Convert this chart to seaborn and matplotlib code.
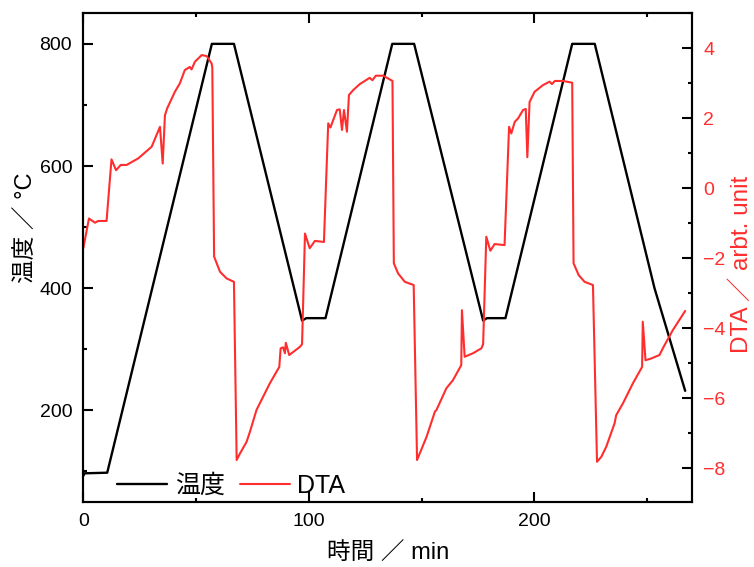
import pandas as pd
import matplotlib.pyplot as plt
import seaborn as sns
from matplotlib.ticker import MultipleLocator
from matplotlib.lines import Line2D

# temperature program (min, degC)
temp_time = [0, 0.6, 10.6, 57.0, 66.8, 97.0, 98.9, 107.4, 137.0, 146.7,
             177.3, 179.0, 187.2, 216.8, 226.8, 253.3, 266.9]
temp_value = [93, 97, 98, 800, 800, 347, 351, 351, 800, 800,
              347, 351, 351, 800, 800, 400, 232]

# DTA signal (min, arbt. unit)
dta_time = [0, 2.5, 5.2, 6.6, 10.3, 12.5, 14.5, 16.6, 19.2, 24.4,
            30.3, 34.0, 35.2, 36.2, 37.2, 40.6, 42.8, 45.0, 47.2, 48.0,
            49.5, 52.5, 54.7, 56.9, 57.2, 58.0, 60.6, 63.5, 66.8, 68.0,
            69.5, 72.4, 73.9, 76.8, 82.7, 86.9, 87.5, 88.6, 89.4, 89.8,
            91.3, 96.0, 97.0, 98.3, 100.4, 102.7, 106.7, 108.6, 109.6, 110.8,
            112.5, 113.7, 114.7, 115.6, 116.9, 117.8, 119.7, 122.6, 127.0, 128.2,
            129.7, 133.0, 137.1, 137.7, 139.6, 142.6, 146.5, 148.0, 149.2, 152.2,
            155.9, 156.6, 161.0, 163.9, 167.6, 167.9, 169.1, 172.8, 176.5, 177.3,
            178.7, 180.5, 182.4, 186.8, 188.8, 189.8, 191.3, 192.8, 195.0, 196.2,
            196.9, 197.9, 200.1, 203.8, 206.8, 207.8, 209.1, 212.7, 216.8, 217.4,
            219.7, 222.3, 226.0, 227.8, 229.7, 231.9, 235.6, 236.3, 239.3, 243.7,
            247.8, 248.1, 249.3, 251.8, 255.5, 257.3, 261.4, 266.9]
dta_value = [-1.71, -0.86, -0.98, -0.93, -0.93, 0.83, 0.52, 0.67, 0.67, 0.86,
             1.19, 1.76, 0.71, 2.09, 2.29, 2.76, 3.00, 3.38, 3.47, 3.40,
             3.62, 3.81, 3.78, 3.57, 3.45, -1.95, -2.38, -2.57, -2.67, -7.76,
             -7.57, -7.24, -6.95, -6.33, -5.57, -5.10, -4.57, -4.54, -4.71, -4.41,
             -4.76, -4.53, -4.45, -1.29, -1.71, -1.50, -1.53, 1.86, 1.74, 1.95,
             2.24, 2.26, 1.67, 2.24, 1.62, 2.67, 2.81, 2.98, 3.16, 3.09,
             3.22, 3.22, 3.07, -2.14, -2.43, -2.67, -2.76, -7.76, -7.57, -7.10,
             -6.38, -6.33, -5.71, -5.48, -5.05, -3.48, -4.81, -4.71, -4.57, -4.45,
             -1.38, -1.78, -1.59, -1.62, 1.76, 1.57, 1.90, 2.00, 2.24, 2.27,
             0.89, 2.47, 2.76, 2.95, 3.05, 2.98, 3.07, 3.07, 3.02, -2.14,
             -2.48, -2.67, -2.76, -7.81, -7.67, -7.38, -6.71, -6.48, -6.14, -5.57,
             -5.10, -3.81, -4.91, -4.86, -4.76, -4.53, -4.05, -3.50]

temp_df = pd.DataFrame({"time": temp_time, "temp": temp_value})
dta_df = pd.DataFrame({"time": dta_time, "dta": dta_value})

sns.set_style("ticks")
fonts = ["Liberation Sans", "Noto Sans CJK JP", "DejaVu Sans"]
plt.rcParams["font.family"] = fonts
plt.rcParams["axes.linewidth"] = 1.5
for key in ["text.color", "axes.labelcolor", "axes.edgecolor",
            "xtick.color", "ytick.color"]:
    plt.rcParams[key] = "black"
red = "#ff2e2e"

fig = plt.figure(figsize=(7.54, 5.67), dpi=100)
ax = fig.add_axes([0.1105, 0.1146, 0.8075, 0.863])
ax2 = ax.twinx()

sns.lineplot(data=temp_df, x="time", y="temp", ax=ax, color="black",
             linewidth=1.7, sort=False)
sns.lineplot(data=dta_df, x="time", y="dta", ax=ax2, color=red,
             linewidth=1.5, sort=False)

ax.set_xlim(0, 270)
ax.set_ylim(50, 851)
ax2.set_ylim(-8.96, 5.02)

ax.xaxis.set_major_locator(MultipleLocator(100))
ax.xaxis.set_minor_locator(MultipleLocator(50))
ax.yaxis.set_major_locator(MultipleLocator(200))
ax.yaxis.set_minor_locator(MultipleLocator(100))
ax2.yaxis.set_major_locator(MultipleLocator(2))
ax2.yaxis.set_minor_locator(MultipleLocator(1))

ax.tick_params(which="both", direction="in", top=True, right=False,
               width=1.5, labelsize=14, pad=8)
ax.tick_params(which="major", length=7)
ax.tick_params(which="minor", length=3.2)
ax2.tick_params(which="both", direction="in", width=1.5, labelsize=14,
                labelcolor=red, pad=8)
ax2.tick_params(which="major", length=7)
ax2.tick_params(which="minor", length=3.2)

ax.set_xlabel("時間 ／ min", fontsize=17, labelpad=9)
ax.set_ylabel("温度 ／ °C", fontsize=17)
ax2.set_ylabel("DTA ／ arbt. unit", fontsize=17.5, color=red)
ax.yaxis.set_label_coords(-0.075, 0.56)
ax2.yaxis.set_label_coords(1.063, 0.485)

handles = [Line2D([], [], color="black", linewidth=1.7),
           Line2D([], [], color=red, linewidth=1.5)]
leg = ax2.legend(handles, ["温度", "DTA"], loc="lower left", ncol=2,
                 frameon=False, bbox_to_anchor=(0.019, -0.037),
                 handlelength=2.0, handletextpad=0.3, columnspacing=0.6,
                 prop={"family": fonts, "size": 18})

plt.savefig("out.png", dpi=100)
